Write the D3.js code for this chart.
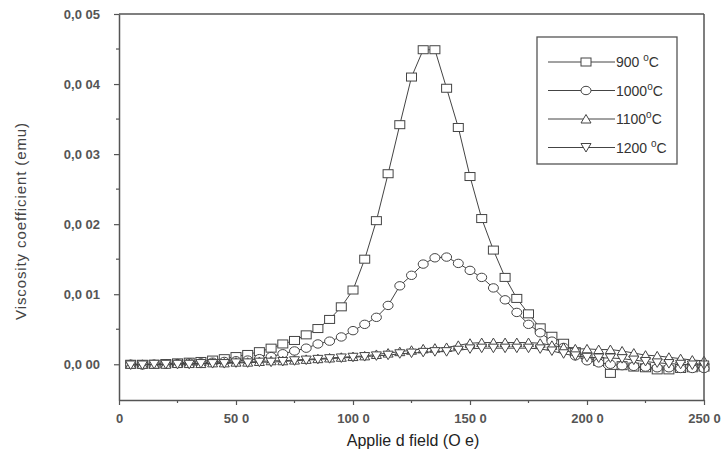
<!DOCTYPE html>
<html>
<head>
<meta charset="utf-8">
<script src="https://cdn.jsdelivr.net/npm/d3@7"></script>
<style>
  body { margin: 0; background: #fff; }
  text { font-family: "Liberation Sans", Arial, sans-serif; }
</style>
</head>
<body>
<div id="chart"></div>
<script>
// applied field values (Oe), shared by all series
const fields = [5, 10, 15, 20, 25, 30, 35, 40, 45, 50, 55, 60, 65, 70, 75, 80, 85, 90, 95, 100,
  105, 110, 115, 120, 125, 130, 135, 140, 145, 150, 155, 160, 165, 170, 175, 180, 185, 190, 195, 200,
  205, 210, 215, 220, 225, 230, 235, 240, 245, 250];

const v900 = [0.0000, 0.0000, 0.0000, 0.0001, 0.0002, 0.0003, 0.0004, 0.0006, 0.0008, 0.0011,
  0.0014, 0.0018, 0.0023, 0.0029, 0.0034, 0.0042, 0.0051, 0.0064, 0.0082, 0.0106,
  0.0150, 0.0205, 0.0272, 0.0342, 0.0410, 0.0449, 0.0449, 0.0394, 0.0338, 0.0268,
  0.0208, 0.0163, 0.0124, 0.0094, 0.0072, 0.0052, 0.0040, 0.0030, 0.0018, 0.0010,
  0.0004, -0.0013, -0.0002, -0.0004, -0.0005, -0.0008, -0.0008, -0.0006, -0.0005, -0.0004];

const v1000 = [0.0000, -0.0001, 0.0000, 0.0000, 0.0001, 0.0002, 0.0002, 0.0003, 0.0004, 0.0005,
  0.0006, 0.0008, 0.0011, 0.0015, 0.0019, 0.0023, 0.0029, 0.0033, 0.0039, 0.0048,
  0.0057, 0.0067, 0.0084, 0.0112, 0.0127, 0.0143, 0.0152, 0.0153, 0.0144, 0.0134,
  0.0124, 0.0109, 0.0092, 0.0074, 0.0057, 0.0045, 0.0033, 0.0024, 0.0012, 0.0005,
  0.0002, 0.0000, -0.0002, -0.0003, -0.0004, -0.0005, -0.0005, -0.0006, -0.0006, -0.0006];

const v1100 = [0.0000, 0.0000, 0.0000, 0.0000, 0.0001, 0.0001, 0.0001, 0.0002, 0.0002, 0.0003,
  0.0003, 0.0004, 0.0005, 0.0005, 0.0006, 0.0007, 0.0008, 0.0009, 0.0010, 0.0011,
  0.0012, 0.0014, 0.0016, 0.0018, 0.0020, 0.0022, 0.0023, 0.0024, 0.0027, 0.0030,
  0.0031, 0.0031, 0.0031, 0.0031, 0.0031, 0.0030, 0.0027, 0.0024, 0.0022, 0.0022,
  0.0021, 0.0021, 0.0019, 0.0016, 0.0013, 0.0012, 0.0010, 0.0008, 0.0006, 0.0005];

const v1200 = [-0.0001, -0.0001, 0.0000, 0.0000, 0.0000, 0.0000, 0.0001, 0.0001, 0.0001, 0.0002,
  0.0002, 0.0003, 0.0003, 0.0004, 0.0005, 0.0006, 0.0007, 0.0008, 0.0009, 0.0010,
  0.0011, 0.0012, 0.0013, 0.0015, 0.0016, 0.0017, 0.0018, 0.0018, 0.0020, 0.0022,
  0.0023, 0.0023, 0.0023, 0.0023, 0.0023, 0.0022, 0.0019, 0.0015, 0.0012, 0.0010,
  0.0009, 0.0009, 0.0008, 0.0006, 0.0004, 0.0002, 0.0001, 0.0000, -0.0001, -0.0001];

const seriesNames = ['900', '1000', '1100', '1200'];
const seriesShapes = ['square', 'circle', 'up', 'down'];

const xTicks = [0, 50, 100, 150, 200, 250];
const xTickLabels = ['0', '50 0', '100 0', '150 0', '200 0', '250 0'];
const yTicks = [0, 0.01, 0.02, 0.03, 0.04, 0.05];
const yTickLabels = ['0,0 00', '0,0 01', '0,0 02', '0,0 03', '0,0 04', '0,0 05'];

const series = [v900, v1000, v1100, v1200].map((vals, i) => ({
  name: seriesNames[i],
  shape: seriesShapes[i],
  points: fields.map((f, j) => ({ x: f, y: vals[j] }))
}));

const W = 726, H = 463;
const margin = { top: 14, right: 22, bottom: 63, left: 119 };
const width = W - margin.left - margin.right;
const height = H - margin.top - margin.bottom;

const svg = d3.select('#chart').append('svg')
  .attr('width', W)
  .attr('height', H);

const g = svg.append('g')
  .attr('transform', `translate(${margin.left},${margin.top})`);

const x = d3.scaleLinear().domain([0, 250]).range([0, width]);
const y = d3.scaleLinear().domain([-0.0051, 0.05]).range([height, 0]);

const axisColor = '#555';
const markColor = '#444';

// draw a marker shape centred on 0,0
function marker(sel, shape) {
  if (shape === 'square') {
    sel.append('rect').attr('x', -5).attr('y', -4).attr('width', 10).attr('height', 8);
  } else if (shape === 'circle') {
    sel.append('ellipse').attr('rx', 5).attr('ry', 4.2);
  } else if (shape === 'up') {
    sel.append('path').attr('d', 'M0,-4.5L5,4L-5,4Z');
  } else {
    sel.append('path').attr('d', 'M0,4.5L5,-4L-5,-4Z');
  }
}

// series lines and markers
const line = d3.line().x(d => x(d.x)).y(d => y(d.y));

series.forEach(s => {
  g.append('path')
    .datum(s.points)
    .attr('fill', 'none')
    .attr('stroke', markColor)
    .attr('stroke-width', 1)
    .attr('d', line);

  g.selectAll(null)
    .data(s.points)
    .enter().append('g')
    .attr('transform', d => `translate(${x(d.x)},${y(d.y)})`)
    .attr('fill', '#fff')
    .attr('stroke', markColor)
    .attr('stroke-width', 1)
    .each(function () { marker(d3.select(this), s.shape); });
});

// frame (top and right)
g.append('line').attr('x1', 0).attr('x2', width).attr('y1', 0).attr('y2', 0)
  .attr('stroke', axisColor).attr('stroke-width', 1.5);
g.append('line').attr('x1', width).attr('x2', width).attr('y1', 0).attr('y2', height)
  .attr('stroke', axisColor).attr('stroke-width', 1.5);

// bottom axis
const xAxis = g.append('g')
  .attr('transform', `translate(0,${height})`)
  .call(d3.axisBottom(x).tickValues(xTicks).tickSize(5).tickSizeOuter(0)
    .tickFormat((d, i) => xTickLabels[i]));
xAxis.append('g').selectAll('line')
  .data([25, 75, 125, 175, 225])
  .enter().append('line')
  .attr('x1', d => x(d)).attr('x2', d => x(d))
  .attr('y1', 0).attr('y2', 3);

// left axis
const yAxis = g.append('g')
  .call(d3.axisLeft(y).tickValues(yTicks).tickSize(5).tickSizeOuter(0)
    .tickFormat((d, i) => yTickLabels[i]));
yAxis.append('g').selectAll('line')
  .data([0.005, 0.015, 0.025, 0.035, 0.045])
  .enter().append('line')
  .attr('x1', 0).attr('x2', -3)
  .attr('y1', d => y(d)).attr('y2', d => y(d));

[xAxis, yAxis].forEach(a => {
  a.select('.domain').attr('stroke', axisColor).attr('stroke-width', 1.5);
  a.selectAll('line').attr('stroke', axisColor).attr('stroke-width', 1.2);
  a.selectAll('text')
    .attr('fill', '#555')
    .attr('font-size', 13)
    .attr('font-weight', 'bold')
    .attr('font-family', '"Liberation Sans", Arial, sans-serif');
});
xAxis.selectAll('.tick text').attr('dy', '1.15em');
yAxis.selectAll('.tick text').attr('x', -19);

// axis titles
svg.append('text')
  .attr('x', 413).attr('y', 446)
  .attr('text-anchor', 'middle')
  .attr('font-size', 16)
  .attr('fill', '#222')
  .text('Applie d field (O e)');

svg.append('text')
  .attr('transform', 'translate(26,221) rotate(-90)')
  .attr('text-anchor', 'middle')
  .attr('font-size', 15)
  .attr('letter-spacing', 0.9)
  .attr('fill', '#444')
  .text('Viscosity coefficient (emu)');

// legend
const legend = svg.append('g').attr('transform', 'translate(537,37)');
legend.append('rect')
  .attr('width', 140).attr('height', 127)
  .attr('fill', '#fff')
  .attr('stroke', axisColor).attr('stroke-width', 1.3);

series.forEach((s, i) => {
  const row = legend.append('g').attr('transform', `translate(0,${25 + i * 28.5})`);
  row.append('line')
    .attr('x1', 11).attr('x2', 78)
    .attr('stroke', markColor).attr('stroke-width', 1);
  const m = row.append('g')
    .attr('transform', 'translate(49,0)')
    .attr('fill', '#fff').attr('stroke', markColor).attr('stroke-width', 1);
  marker(m, s.shape);
  const t = row.append('text')
    .attr('x', 79).attr('y', 5)
    .attr('font-size', 14)
    .attr('fill', '#333');
  t.append('tspan').text(s.name + (s.name === '900' || s.name === '1200' ? ' ' : ''));
  t.append('tspan').attr('dy', -6).attr('font-size', 10).text('o');
  t.append('tspan').attr('dy', 6).text('C');
});
</script>
</body>
</html>
